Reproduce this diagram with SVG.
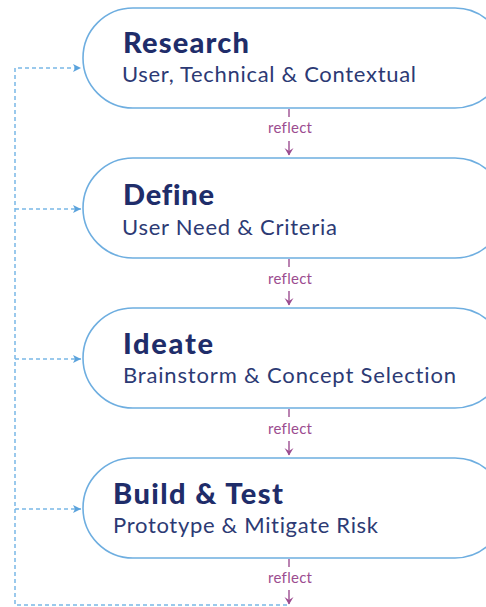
<svg xmlns="http://www.w3.org/2000/svg" width="486" height="607" viewBox="0 0 486 607">
<defs>
<style>
text{font-variant-ligatures:none;font-family:Lato,"Open Sans","Liberation Sans",sans-serif}
.pill{fill:#fff;stroke:#6eaee0;stroke-width:1.6}
.t{font-weight:900;font-size:29px;fill:#1f2d6a}
.s{font-size:22px;fill:#2c3a74}
.r{font-size:15px;fill:#9c4d90}
.rl{stroke:#9c4d90;stroke-width:1.4;fill:none}
.bl{stroke:#7ab8e6;stroke-width:1.5;fill:none;stroke-dasharray:4 3}
</style>
<marker id="pa" markerWidth="10" markerHeight="10" refX="8" refY="5" orient="auto" markerUnits="userSpaceOnUse" viewBox="0 0 10 10">
<path d="M1,0.5 L8.5,5 L1,9.5 L4,5 Z" fill="#9c4d90"/>
</marker>
<marker id="ba" markerWidth="10" markerHeight="10" refX="9" refY="5" orient="auto" markerUnits="userSpaceOnUse" viewBox="0 0 10 10">
<path d="M1,1 L9,5 L1,9 L3,5 Z" fill="#5aa2dc"/>
</marker>
</defs>
<g id="connectors">
<path class="bl" d="M287,605 L15,605 L15,68 L81,68" marker-end="url(#ba)"/>
<path class="bl" d="M15,209 L81,209" marker-end="url(#ba)"/>
<path class="bl" d="M15,359 L81,359" marker-end="url(#ba)"/>
<path class="bl" d="M15,509 L81,509" marker-end="url(#ba)"/>
<g id="reflect1"><path class="rl" d="M289,109 V117"/><text class="r" x="268" y="133" textLength="44">reflect</text><path class="rl" d="M289,141 V155" marker-end="url(#pa)"/></g>
<g id="reflect2"><path class="rl" d="M289,259 V267"/><text class="r" x="268" y="284" textLength="44">reflect</text><path class="rl" d="M289,291 V305" marker-end="url(#pa)"/></g>
<g id="reflect3"><path class="rl" d="M289,409 V417"/><text class="r" x="268" y="434" textLength="44">reflect</text><path class="rl" d="M289,441 V455" marker-end="url(#pa)"/></g>
<g id="reflect4"><path class="rl" d="M289,559 V567"/><text class="r" x="268" y="583" textLength="44">reflect</text><path class="rl" d="M289,590 V604" marker-end="url(#pa)"/></g>
</g>
<g id="research"><rect class="pill" x="83" y="8" width="422" height="100" rx="50"/><text class="t" x="123" y="53" textLength="126">Research</text><text class="s" x="122" y="82" textLength="294">User, Technical &amp; Contextual</text></g>
<g id="define"><rect class="pill" x="83" y="158" width="422" height="100" rx="50"/><text class="t" x="123" y="205" textLength="91">Define</text><text class="s" x="122" y="235" textLength="215">User Need &amp; Criteria</text></g>
<g id="ideate"><rect class="pill" x="83" y="308" width="422" height="100" rx="50"/><text class="t" x="123" y="354" textLength="90">Ideate</text><text class="s" x="123" y="383" textLength="333">Brainstorm &amp; Concept Selection</text></g>
<g id="build"><rect class="pill" x="83" y="458" width="422" height="100" rx="50"/><text class="t" x="113" y="504" textLength="170">Build &amp; Test</text><text class="s" x="113" y="533" textLength="265">Prototype &amp; Mitigate Risk</text></g>
</svg>
